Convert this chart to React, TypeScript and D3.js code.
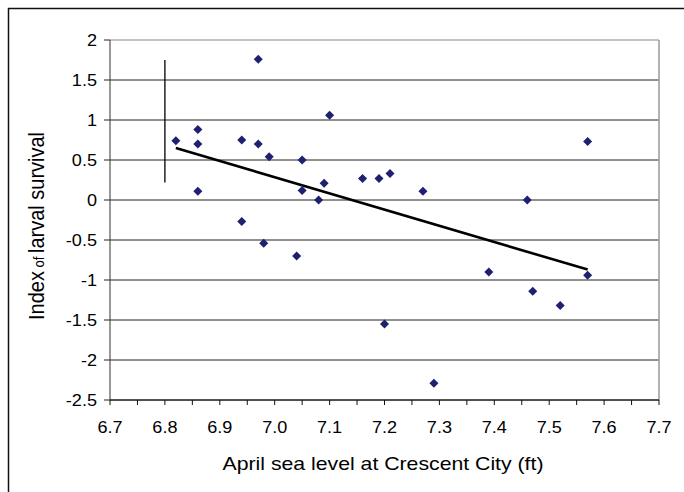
import React from "react";
import * as d3 from "d3";

const seaLevel = [6.82, 6.86, 6.86, 6.86, 6.94, 6.94, 6.97, 6.97, 6.99, 6.98, 7.05, 7.05, 7.04, 7.08, 7.09, 7.10, 7.16, 7.19, 7.21, 7.20, 7.27, 7.29, 7.39, 7.46, 7.47, 7.52, 7.57, 7.57];
const survival = [0.74, 0.88, 0.70, 0.11, 0.75, -0.27, 1.76, 0.70, 0.54, -0.54, 0.50, 0.12, -0.70, 0.0, 0.21, 1.06, 0.27, 0.27, 0.33, -1.55, 0.11, -2.29, -0.90, 0.0, -1.14, -1.32, 0.73, -0.94];
const trendX = [6.82, 7.57];
const trendY = [0.65, -0.87];
const barX = [6.8, 6.8];
const barY = [1.75, 0.22];
const xTicks = [6.7, 6.8, 6.9, 7.0, 7.1, 7.2, 7.3, 7.4, 7.5, 7.6, 7.7];
const yTicks = [2, 1.5, 1, 0.5, 0, -0.5, -1, -1.5, -2, -2.5];
const xTitle = "April sea level at Crescent City (ft)";

export default function App() {
  const left = 110, right = 659, top = 40, bottom = 400;
  const x = d3.scaleLinear().domain([6.7, 7.7]).range([left, right]);
  const y = d3.scaleLinear().domain([-2.5, 2]).range([bottom, top]);
  const minor = d3.range(0, 21).map((i) => 6.7 + i * 0.05);
  const font = "'Liberation Sans', Arial, sans-serif";
  const sx = 1.13;
  const diamond = d3.symbol().type(d3.symbolDiamond2).size(52)();
  const line = d3.line<number>().x((_, i) => x(trendX[i])).y((d) => y(d));
  return (
    <svg width={684} height={492} style={{ position: "absolute", left: 0, top: 0, background: "#fff" }} fontFamily={font}>
      <rect x={8.5} y={8.5} width={720} height={520} fill="#fff" stroke="#111" strokeWidth={1.5} />
      {yTicks.map((t) => (
        <g key={t}>
          <line x1={left} x2={right} y1={y(t)} y2={y(t)} stroke={t === 2 ? "#888" : "#222"} strokeWidth={1} />
          <line x1={left - 6} x2={left} y1={y(t)} y2={y(t)} stroke="#222" />
          <text transform={`translate(${left - 13},${y(t)}) scale(${sx},1)`} dy="0.35em" textAnchor="end" fontSize={16} fill="#000">{t}</text>
        </g>
      ))}
      <line x1={right} x2={right} y1={top} y2={bottom} stroke="#999" strokeWidth={1.5} />
      <line x1={left} x2={left} y1={top} y2={bottom} stroke="#333" strokeWidth={1} />
      <line x1={left} x2={right} y1={bottom} y2={bottom} stroke="#111" strokeWidth={1} />
      {minor.map((t, i) => (
        <line key={i} x1={x(t)} x2={x(t)} y1={bottom} y2={bottom + 5} stroke="#111" />
      ))}
      {xTicks.map((t) => (
        <text key={t} transform={`translate(${x(t)},${bottom + 33}) scale(${sx},1)`} textAnchor="middle" fontSize={16} fill="#000">{t.toFixed(1)}</text>
      ))}
      <line x1={x(barX[0])} x2={x(barX[1])} y1={y(barY[0])} y2={y(barY[1])} stroke="#000" strokeWidth={1.3} />
      <path d={line(trendY) || ""} fill="none" stroke="#000" strokeWidth={2.6} />
      {seaLevel.map((v, i) => (
        <path key={i} d={diamond || ""} transform={`translate(${x(v)},${y(survival[i])})`} fill="#1f2070" />
      ))}
      <text transform={`translate(383,470) scale(${sx},1)`} textAnchor="middle" fontSize={18.8} fill="#000">{xTitle}</text>
      <text transform={`translate(44,${(top + bottom) / 2 + 6}) scale(${sx},1) rotate(-90)`} textAnchor="middle" fontSize={20} fill="#000">
        Index<tspan fontSize={13}> of </tspan>larval survival
      </text>
    </svg>
  );
}
